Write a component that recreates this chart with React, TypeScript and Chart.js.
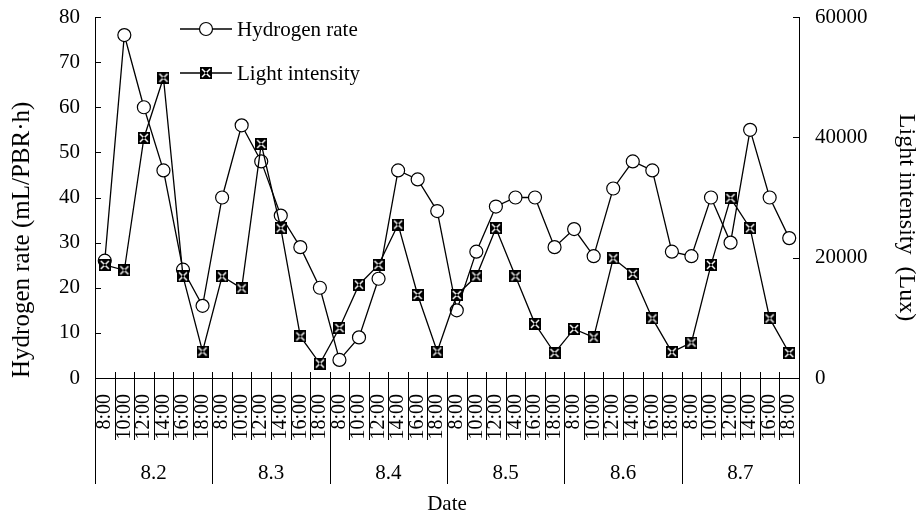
import React, { useEffect, useRef } from 'react';
import { Chart, registerables } from 'chart.js';

Chart.register(...registerables);

const FONT = '"Liberation Serif", "Times New Roman", serif';

const days = ['8.2', '8.3', '8.4', '8.5', '8.6', '8.7'];
const times = ['8:00', '10:00', '12:00', '14:00', '16:00', '18:00'];

const hydrogenRate = [
  26, 76, 60, 46, 24, 16,
  40, 56, 48, 36, 29, 20,
  4, 9, 22, 46, 44, 37,
  15, 28, 38, 40, 40, 29,
  33, 27, 42, 48, 46, 28,
  27, 40, 30, 55, 40, 31,
];

const lightIntensity = [
  18800, 17900, 39900, 49900, 16900, 4400,
  16900, 14900, 38900, 24900, 6900, 2400,
  8300, 15500, 18800, 25500, 13800, 4400,
  13800, 16900, 24900, 16900, 9000, 4150,
  8150, 6750, 19900, 17300, 9900, 4300,
  5900, 18800, 29900, 24900, 9900, 4150,
];

const rateTicks = [0, 10, 20, 30, 40, 50, 60, 70, 80];
const luxTicks = [0, 20000, 40000, 60000];

const rightTitle = 'Light intensity  (Lux)';

const labels = days.flatMap(() => times);

function makeLightMarker(): HTMLCanvasElement {
  const s = 12;
  const c = document.createElement('canvas');
  c.width = s;
  c.height = s;
  const g = c.getContext('2d')!;
  g.fillStyle = '#000';
  g.fillRect(0, 0, s, s);
  g.strokeStyle = '#fff';
  g.lineWidth = 1.5;
  g.beginPath();
  g.moveTo(2, 2);
  g.lineTo(s - 2, s - 2);
  g.moveTo(s - 2, 2);
  g.lineTo(2, s - 2);
  g.stroke();
  g.fillStyle = '#000';
  g.fillRect(s / 2 - 1, s / 2 - 1, 2, 2);
  return c;
}

const zeroPad = (s: any) => {
  s.paddingTop = 0;
  s.paddingBottom = 0;
  s.paddingLeft = 0;
  s.paddingRight = 0;
};

const decorPlugin = {
  id: 'decor',
  afterDraw(chart: any) {
    const { ctx, chartArea } = chart;
    const xs = chart.scales.x;
    const ys = chart.scales.y;
    const y1 = chart.scales.y1;
    const b = chartArea.bottom;
    const n = labels.length;
    ctx.save();
    ctx.strokeStyle = '#000';
    ctx.lineWidth = 1;
    ctx.beginPath();
    for (let i = 0; i <= n; i++) {
      const x = Math.round((xs.getPixelForValue(i - 1) + xs.getPixelForValue(i)) / 2) + 0.5;
      const group = i % times.length === 0;
      ctx.moveTo(x, b - 6);
      ctx.lineTo(x, group ? b + 106 : b + 62);
    }
    ys.ticks.forEach((t: any) => {
      const y = Math.round(ys.getPixelForValue(t.value)) + 0.5;
      ctx.moveTo(chartArea.left, y);
      ctx.lineTo(chartArea.left + 6, y);
    });
    y1.ticks.forEach((t: any) => {
      const y = Math.round(y1.getPixelForValue(t.value)) + 0.5;
      ctx.moveTo(chartArea.right, y);
      ctx.lineTo(chartArea.right - 6, y);
    });
    ctx.stroke();

    ctx.fillStyle = '#000';
    ctx.font = `21px ${FONT}`;
    ctx.textAlign = 'center';
    ctx.textBaseline = 'middle';
    days.forEach((d, g) => {
      const a = xs.getPixelForValue(g * times.length);
      const z = xs.getPixelForValue(g * times.length + times.length - 1);
      ctx.fillText(d, (a + z) / 2, b + 95);
    });

    // right axis title
    ctx.save();
    ctx.translate(y1.right - 10, (chartArea.top + chartArea.bottom) / 2 + 20);
    ctx.rotate(Math.PI / 2);
    ctx.font = `24px ${FONT}`;
    ctx.textAlign = 'center';
    ctx.textBaseline = 'middle';
    ctx.fillText(rightTitle, 0, 0);
    ctx.restore();

    // legend
    const lx0 = chartArea.left + 85;
    const lx1 = chartArea.left + 137;
    const lxm = (lx0 + lx1) / 2;
    chart.data.datasets.forEach((ds: any, i: number) => {
      const y = chartArea.top + 12 + i * 44;
      ctx.strokeStyle = '#000';
      ctx.lineWidth = 1.3;
      ctx.beginPath();
      ctx.moveTo(lx0, y);
      ctx.lineTo(lx1, y);
      ctx.stroke();
      if (ds.pointStyle === 'circle') {
        ctx.beginPath();
        ctx.arc(lxm, y, ds.pointRadius, 0, Math.PI * 2);
        ctx.fillStyle = '#fff';
        ctx.fill();
        ctx.lineWidth = ds.pointBorderWidth;
        ctx.stroke();
      } else {
        const img = ds.pointStyle as HTMLCanvasElement;
        ctx.drawImage(img, lxm - img.width / 2, y - img.height / 2);
      }
      ctx.fillStyle = '#000';
      ctx.font = `21px ${FONT}`;
      ctx.textAlign = 'left';
      ctx.textBaseline = 'middle';
      ctx.fillText(ds.label, lx1 + 5, y + 1);
    });
    ctx.restore();
  },
};

export default function App() {
  const ref = useRef<HTMLCanvasElement | null>(null);

  useEffect(() => {
    if (!ref.current) return;
    const marker = makeLightMarker();
    const chart = new Chart(ref.current, {
      type: 'line',
      data: {
        labels,
        datasets: [
          {
            label: 'Hydrogen rate',
            data: hydrogenRate,
            yAxisID: 'y',
            borderColor: '#000',
            borderWidth: 1.3,
            pointStyle: 'circle',
            pointRadius: 6.5,
            pointBackgroundColor: '#fff',
            pointBorderColor: '#000',
            pointBorderWidth: 1.2,
            tension: 0,
            order: 1,
          },
          {
            label: 'Light intensity',
            data: lightIntensity,
            yAxisID: 'y1',
            borderColor: '#000',
            borderWidth: 1.3,
            pointStyle: marker as any,
            pointRadius: 6,
            tension: 0,
            order: 0,
          },
        ],
      },
      options: {
        responsive: false,
        animation: false,
        layout: { padding: { top: 17, left: 0, right: 0, bottom: 0 } },
        plugins: { legend: { display: false }, tooltip: { enabled: false } },
        scales: {
          x: {
            type: 'category',
            offset: true,
            grid: { display: false, drawTicks: false },
            border: { display: true, color: '#000', width: 1 },
            ticks: {
              color: '#000',
              font: { family: FONT, size: 20 },
              minRotation: 90,
              maxRotation: 90,
              autoSkip: false,
              padding: 16,
            },
            title: {
              display: true,
              text: 'Date',
              color: '#000',
              font: { family: FONT, size: 21, lineHeight: 1 },
              padding: { top: 0, bottom: 0 },
            },
            afterFit: (s: any) => {
              s.height = 137;
              zeroPad(s);
            },
          },
          y: {
            position: 'left',
            min: 0,
            max: 80,
            afterBuildTicks: (s: any) => {
              s.ticks = rateTicks.map((v) => ({ value: v }));
            },
            ticks: { color: '#000', font: { family: FONT, size: 21 }, padding: 15 },
            grid: { display: false, drawTicks: false },
            border: { display: true, color: '#000', width: 1 },
            title: {
              display: true,
              text: 'Hydrogen rate (mL/PBR·h)',
              align: 'start',
              color: '#000',
              font: { family: FONT, size: 25, lineHeight: 1 },
              padding: { top: 10, bottom: 0 },
            },
            afterFit: (s: any) => {
              s.width = 95;
              zeroPad(s);
            },
          },
          y1: {
            position: 'right',
            min: 0,
            max: 60000,
            afterBuildTicks: (s: any) => {
              s.ticks = luxTicks.map((v) => ({ value: v }));
            },
            ticks: {
              color: '#000',
              font: { family: FONT, size: 21 },
              padding: 16,
              callback: (v: any) => String(v),
            },
            grid: { display: false, drawTicks: false },
            border: { display: true, color: '#000', width: 1 },
            title: { display: false },
            afterFit: (s: any) => {
              s.width = 117;
              zeroPad(s);
            },
          },
        },
      },
      plugins: [decorPlugin],
    } as any);
    return () => chart.destroy();
  }, []);

  return (
    <div style={{ position: 'fixed', left: 0, top: 0, width: 916, height: 515, background: '#fff' }}>
      <canvas ref={ref} width={916} height={515} style={{ display: 'block' }} />
    </div>
  );
}
